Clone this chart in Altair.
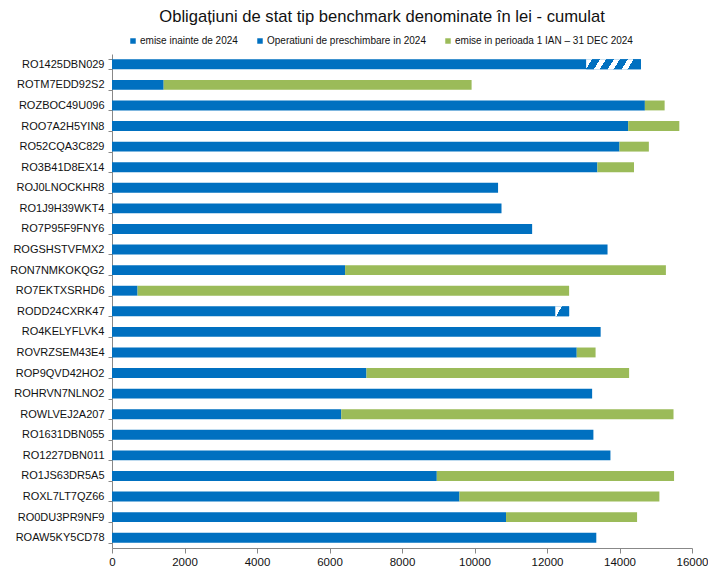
import altair as alt
import pandas as pd

names = [
    "RO1425DBN029", "ROTM7EDD92S2", "ROZBOC49U096", "ROO7A2H5YIN8", "RO52CQA3C829",
    "RO3B41D8EX14", "ROJ0LNOCKHR8", "RO1J9H39WKT4", "RO7P95F9FNY6", "ROGSHSTVFMX2",
    "RON7NMKOKQG2", "RO7EKTXSRHD6", "RODD24CXRK47", "RO4KELYFLVK4", "ROVRZSEM43E4",
    "ROP9QVD42HO2", "ROHRVN7NLNO2", "ROWLVEJ2A207", "RO1631DBN055", "RO1227DBN011",
    "RO1JS63DR5A5", "ROXL7LT7QZ66", "RO0DU3PR9NF9", "ROAW5KY5CD78",
]
before_2024 = [
    13080, 1425, 14700, 14240, 14000,
    13390, 10650, 10745, 11590, 13670,
    6430, 705, 12230, 13480, 12820,
    7020, 13245, 6325, 13280, 13750,
    8960, 9585, 10870, 13360,
]
exchange_2024 = [
    1510, 0, 0, 0, 0,
    0, 0, 0, 0, 0,
    0, 0, 380, 0, 0,
    0, 0, 0, 0, 0,
    0, 0, 0, 0,
]
issued_2024 = [
    0, 8495, 545, 1410, 810,
    1010, 0, 0, 0, 0,
    8850, 11905, 0, 0, 520,
    7245, 0, 9165, 0, 0,
    6545, 5515, 3615, 0,
]
series_names = [
    "emise inainte de 2024",
    "Operatiuni de preschimbare in 2024",
    "emise in perioada 1 IAN \u2013 31 DEC 2024",
]
x_ticks = [0, 2000, 4000, 6000, 8000, 10000, 12000, 14000, 16000]

BLUE = "#0070C0"
GREEN = "#9BBB59"
FONT = "Liberation Sans"

rows = []
for n, b, e, g in zip(names, before_2024, exchange_2024, issued_2024):
    start = 0
    for s, v in zip(series_names, (b, e, g)):
        if v > 0:
            rows.append({"name": n, "series": s, "start": start, "end": start + v})
            start += v
df = pd.DataFrame(rows)

y_enc = alt.Y(
    "name:N",
    sort=names,
    title=None,
    scale=alt.Scale(paddingInner=0.52, paddingOuter=0.26),
    axis=alt.Axis(
        labelFont=FONT, labelFontSize=11, labelColor="#111111",
        tickSize=4, tickBand="extent", tickColor="#888888",
        domainColor="#888888", labelPadding=4, grid=False,
    ),
)
x_enc = alt.X(
    "start:Q",
    title=None,
    scale=alt.Scale(domain=[0, 16000], nice=False),
    axis=alt.Axis(
        values=x_ticks, format="d", labelFont=FONT, labelFontSize=11.5,
        labelColor="#111111", tickSize=5, tickColor="#888888",
        domainColor="#888888", grid=False, labelPadding=3, labelFlush=False,
    ),
)

bars = alt.Chart(df).mark_bar(strokeWidth=0).encode(
    y=y_enc,
    x=x_enc,
    x2="end:Q",
    color=alt.Color(
        "series:N",
        scale=alt.Scale(domain=series_names, range=[BLUE, BLUE, GREEN]),
        legend=alt.Legend(
            title=None, orient="none", direction="horizontal",
            legendX=16, legendY=-18, symbolType="square", symbolSize=30,
            symbolStrokeWidth=0, labelFont=FONT, labelFontSize=10,
            labelColor="#111111", columnPadding=17, labelOffset=2,
            padding=0, labelLimit=400,
        ),
    ),
)


def stripes(n, frac, y2):
    stops = []
    for k in range(n):
        a = k / n
        b = (k + frac) / n
        c = (k + 1) / n
        stops += [
            alt.GradientStop(color="white", offset=a),
            alt.GradientStop(color="white", offset=b),
            alt.GradientStop(color=BLUE, offset=b),
            alt.GradientStop(color=BLUE, offset=c),
        ]
    return alt.LinearGradient(gradient="linear", stops=stops, x1=0, y1=0, x2=1, y2=y2)


hatch = df[df["series"] == series_names[1]].reset_index(drop=True)
hatch1 = alt.Chart(hatch.iloc[[0]]).mark_bar(fill=stripes(4, 0.42, 0.11), strokeWidth=0).encode(
    y=alt.Y("name:N", sort=names), x="start:Q", x2="end:Q"
)
hatch2 = alt.Chart(hatch.iloc[[1]]).mark_bar(fill=stripes(1, 0.4, 0.4), strokeWidth=0).encode(
    y=alt.Y("name:N", sort=names), x="start:Q", x2="end:Q"
)

chart = alt.layer(bars, hatch1, hatch2).properties(
    width=580,
    height=494,
    title=alt.TitleParams(
        "Obliga\u021biuni de stat tip benchmark denominate \u00een lei - cumulat",
        font=FONT, fontSize=16.6, fontWeight="normal", color="#111111",
        anchor="middle", dx=-20, offset=10,
    ),
    autosize=alt.AutoSizeParams(type="none"),
    padding={"left": 104, "top": 46, "right": 16, "bottom": 20},
).configure_view(stroke=None)

chart.save("out.html", embed_options={"renderer": "svg", "actions": False})
